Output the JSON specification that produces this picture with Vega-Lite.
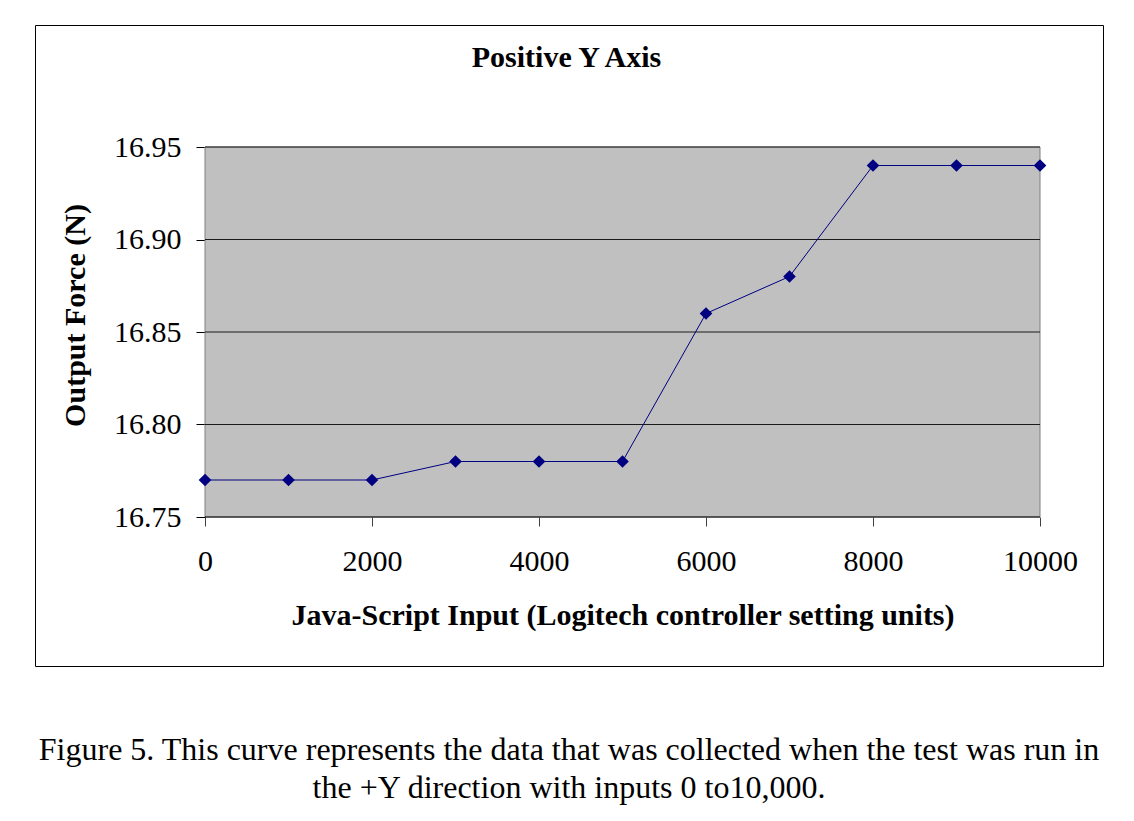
{
  "$schema": "https://vega.github.io/schema/vega-lite/v6.json",
  "width": 1068,
  "height": 641,
  "autosize": {"type": "none"},
  "padding": {"left": 35, "top": 25, "right": 31, "bottom": 155},
  "background": "white",
  "title": {
    "text": ["Figure 5. This curve represents the data that was collected when the test was run in", "the +Y direction with inputs 0 to10,000."],
    "orient": "bottom",
    "anchor": "middle",
    "offset": 69,
    "font": "Liberation Serif",
    "fontSize": 32,
    "fontWeight": "normal",
    "color": "black",
    "lineHeight": 38
  },
  "config": {
    "view": {"stroke": "black", "strokeWidth": 1, "fill": "white"},
    "font": "Liberation Serif"
  },
  "data": {
    "values": [
      {"input": 0, "force": 16.77},
      {"input": 1000, "force": 16.77},
      {"input": 2000, "force": 16.77},
      {"input": 3000, "force": 16.78},
      {"input": 4000, "force": 16.78},
      {"input": 5000, "force": 16.78},
      {"input": 6000, "force": 16.86},
      {"input": 7000, "force": 16.88},
      {"input": 8000, "force": 16.94},
      {"input": 9000, "force": 16.94},
      {"input": 10000, "force": 16.94}
    ]
  },
  "resolve": {"axis": {"x": "independent", "y": "independent"}},
  "layer": [
    {
      "data": {"values": [{}]},
      "mark": {"type": "rect", "fill": "#C0C0C0", "stroke": "#808080", "strokeWidth": 1},
      "encoding": {
        "x": {"datum": 0, "type": "quantitative", "axis": null, "scale": {"domain": [0, 10000], "range": [170, 1005], "nice": false, "zero": false}},
        "x2": {"datum": 10000},
        "y": {"datum": 16.75, "type": "quantitative", "axis": null, "scale": {"domain": [16.75, 16.95], "range": [492, 122], "nice": false, "zero": false}},
        "y2": {"datum": 16.95}
      }
    },
    {
      "data": {"values": [{"level": 16.80}, {"level": 16.85}, {"level": 16.90}, {"level": 16.95}]},
      "mark": {"type": "rule", "color": "#1a1a1a", "strokeWidth": 1},
      "encoding": {
        "x": {"datum": 0, "type": "quantitative", "axis": null},
        "x2": {"datum": 10000},
        "y": {"field": "level", "type": "quantitative", "axis": null}
      }
    },
    {
      "mark": {"type": "line", "color": "#000080", "strokeWidth": 1},
      "encoding": {
        "x": {
          "field": "input", "type": "quantitative",
          "axis": {
            "orient": "bottom", "offset": -149, "values": [0, 2000, 4000, 6000, 8000, 10000],
            "format": "d", "grid": false, "domain": false,
            "tickSize": 9, "tickColor": "#404040", "tickWidth": 1,
            "labelPadding": 20, "labelFont": "Liberation Serif", "labelFontSize": 30, "labelColor": "black",
            "labelFlush": false, "labelOverlap": false,
            "title": "Java-Script Input (Logitech controller setting units)",
            "titleFont": "Liberation Serif", "titleFontSize": 30, "titleFontWeight": "bold", "titleColor": "black",
            "titlePadding": 24
          }
        },
        "y": {
          "field": "force", "type": "quantitative",
          "axis": {
            "orient": "left", "offset": -170, "values": [16.75, 16.8, 16.85, 16.9, 16.95],
            "format": ".2f", "grid": false, "domain": true, "domainColor": "black", "domainWidth": 1,
            "tickSize": 9, "tickColor": "black", "tickWidth": 1,
            "labelPadding": 15, "labelFont": "Liberation Serif", "labelFontSize": 30, "labelColor": "black",
            "labelFlush": false, "labelOverlap": false,
            "title": "Output Force (N)",
            "titleFont": "Liberation Serif", "titleFontSize": 30, "titleFontWeight": "bold", "titleColor": "black",
            "titlePadding": 23, "titleY": 290
          }
        }
      }
    },
    {
      "data": {"values": [{}]},
      "mark": {"type": "rule", "color": "black", "strokeWidth": 1},
      "encoding": {
        "x": {"datum": 0, "type": "quantitative", "axis": null},
        "x2": {"datum": 10000},
        "y": {"datum": 16.75, "type": "quantitative", "axis": null}
      }
    },
    {
      "mark": {"type": "point", "shape": "diamond", "filled": true, "color": "#000080", "size": 160, "opacity": 1},
      "encoding": {
        "x": {
          "field": "input", "type": "quantitative",
          "axis": {
            "orient": "top", "offset": -47, "labels": false, "ticks": false, "domain": false, "grid": false,
            "title": "Positive Y Axis",
            "titleFont": "Liberation Serif", "titleFontSize": 30, "titleFontWeight": "bold", "titleColor": "black",
            "titlePadding": 0, "titleX": 531, "titleAlign": "center"
          }
        },
        "y": {"field": "force", "type": "quantitative", "axis": null}
      }
    }
  ]
}
